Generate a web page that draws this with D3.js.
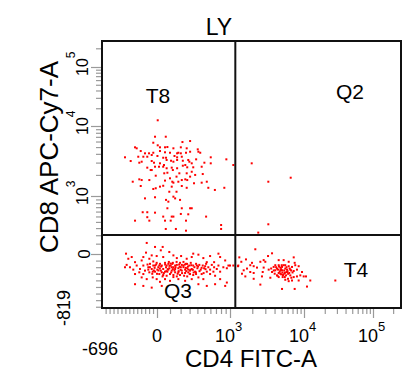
<!DOCTYPE html>
<html><head><meta charset="utf-8">
<script src="https://cdn.jsdelivr.net/npm/d3@7"></script>
<style>
html,body{margin:0;padding:0;background:#fff;}
svg{display:block;}
text{font-family:"Liberation Sans",Arial,sans-serif;fill:#000;}
</style></head>
<body><svg id="c" width="420" height="391"></svg>
<script>
// ---- data (fluorescence units: [CD4 FITC-A, CD8 APC-Cy7-A]) ----
const title = "LY";
const xLabel = "CD4 FITC-A";
const yLabel = "CD8 APC-Cy7-A";
const xMin = -696, xMax = 262143;
const yMin = -819, yMax = 262143;
const xGate = 1180, yGate = 203;
const quadrantNames = ["T8", "Q2", "Q3", "T4"];
const xMajorTicks = [0, 1e3, 1e4, 1e5];
const yMajorTicks = [0, 1e3, 1e4, 1e5];
const xMinorTicks = [-650,-600,-550,-500,-450,-400,-350,-300,-250,-200,-150,-100,-50,
  100,200,300,400,500,600,700,800,900,2000,3000,4000,5000,6000,7000,8000,9000,
  20000,30000,40000,50000,60000,70000,80000,90000,200000];
const yMinorTicks = [-800,-700,-600,-500,-400,-300,-200,-100,
  100,200,300,400,500,600,700,800,900,2000,3000,4000,5000,6000,7000,8000,9000,
  20000,30000,40000,50000,60000,70000,80000,90000,200000];

const t8Cells = [[5,12500],[-25,7030],[65,7030],[-47,5770],[219,5900],[306,6100],[-278,4960],[-257,4800],
[5,5300],[21,4960],[59,4960],[78,5010],[130,4800],[202,4960],[266,4800],[405,4640],[414,4290],[440,4150],
[-206,4390],[-152,4070],[-101,4070],[-47,4150],[21,4390],[59,4210],[100,4150],[165,4070],[177,4150],[202,4070],
[258,4150],[306,4290],[-405,3570],[-237,3640],[-173,3640],[-123,3640],[-67,3850],[3,3730],[45,3520],[67,3520],
[140,3730],[165,3570],[212,3640],[284,3270],[383,3340],[606,3570],[915,3340],[-333,3160],[-224,2990],[-194,3090],
[-67,3160],[-38,2990],[21,2930],[51,2770],[72,3270],[109,3190],[130,3090],[165,3270],[223,3190],[297,3090],
[326,2930],[502,2990],[606,2930],[1109,2770],[-123,2540],[-80,2350],[-25,2620],[14,2620],[45,2620],[72,2490],
[115,2540],[125,2350],[165,2490],[223,2710],[250,2770],[272,2570],[345,2570],[461,2620],[477,2060],[-67,2350],
[53,2110],[78,2150],[187,2110],[266,2110],[326,2220],[370,2000],[-16,1950],[100,1790],[159,1890],[212,1690],
[250,1730],[306,1890],[-307,1600],[-224,1730],[-194,1690],[-97,1690],[59,1660],[120,1600],[130,1550],[177,1600],
[272,1690],[355,1520],[461,1550],[540,1600],[-206,1390],[-47,1260],[-16,1290],[21,1360],[45,1400],[115,1360],
[212,1390],[266,1310],[565,1310],[680,1220],[870,1310],[94,1150],[159,1150],[130,980],[-152,930],[-25,962],
[67,887],[86,839],[146,930],[194,887],[78,674],[212,674],[306,674],[326,674],[-181,586],[-123,586],[-25,577],
[-123,486],[-97,422],[45,497],[115,497],[130,497],[202,550],[284,543],[529,497],[-278,422],[59,422],[106,422],
[258,422],[802,348],[65,287],[153,287],[258,262],[802,287]];

const q2Cells = [[1965,2930],[3295,1600],[6610,1825],[3295,360],[2410,235]];

const q3Cells = [[-130,108],[-25,66],[41,66],[27,33],[-139,12],[-67,-21],[94,18],[130,-21],[205,-31],[345,3],
[414,-10],[486,-62],[595,-31],[748,3],[889,-98],[782,-46],[-392,3],[-363,-72],[-320,-46],[-278,-124],[-173,-46],
[-194,-98],[-97,-72],[-4,-31],[45,-46],[162,-62],[266,-72],[326,-46],[540,-124],[666,-124],[962,-175],[1109,-175],
[1294,-175],[-405,-201],[-384,-165],
[-257,-175],[-215,-227],[-173,-175],[-152,-252],[-110,-201],[-89,-149],[-67,-227],[-47,-175],[-25,-268],[-4,-134],
[9,-201],[21,-149],[27,-252],[34,-175],[45,-227],[59,-134],[67,-201],[78,-268],[86,-149],[94,-216],[106,-175],
[115,-252],[125,-134],[130,-201],[146,-227],[162,-165],[177,-278],[194,-134],[202,-201],[212,-252],[229,-175],
[248,-237],[258,-149],[272,-216],[284,-278],[296,-175],[314,-134],[326,-227],[345,-175],[369,-268],[382,-149],
[400,-216],[427,-165],[447,-237],[477,-175],[498,-216],[529,-149],[565,-201],[595,-237],[624,-165],[666,-201],
[716,-227],[748,-175],[782,-268],[849,-201],[926,-216],[1000,-175],
[-47,-113],[16,-304],[45,-319],[72,-330],[100,-304],[130,-319],[162,-340],[194,-319],[237,-330],[272,-340],
[305,-304],[345,-319],[146,-278],[115,-201],[59,-268],[2,-237],[-97,-278],[-173,-304],[-224,-278],[-300,-237],
[-342,-201],[-278,-304],[-194,-355],[-130,-381],[-54,-355],[-4,-381],[21,-422],[59,-381],[100,-407],[177,-381],
[248,-407],[326,-381],[414,-355],[486,-381],[595,-304],[684,-330],[782,-381],[926,-433],[-278,-458],[-173,-484],
[-67,-510],[34,-484],[414,-458],[540,-484],[684,-458],[889,-484],[177,-216],[212,-165],[284,-237],[86,-237],
[34,-278],[-25,-175],[-110,-237],[382,-304],[461,-304],[540,-268],[653,-268],[146,-175],[248,-288],[392,-175],
[514,-185],[305,-252],[72,-175],[16,-175],[-54,-268],
[-30,-210],[-10,-160],[10,-250],[30,-190],[50,-290],[60,-160],[80,-230],[95,-180],[110,-280],[120,-150],
[140,-250],[150,-200],[170,-300],[185,-160],[200,-240],[215,-290],[230,-200],[245,-160],[260,-260],[280,-190],
[300,-300],[320,-170],[340,-240],[360,-200],[380,-280],[410,-190],[430,-260],[460,-210],[490,-290],[520,-230],
[40,-340],[90,-120],[160,-120],[230,-120],[-60,-300],[-90,-200],[-120,-160],[0,-300],[70,-260],[125,-230],
[190,-195],[255,-210],[310,-240],[350,-280],[20,-220],[105,-145],[180,-260],[270,-150],[-40,-250],[130,-350]];

const t4Cells = [[2198,43],[1336,-51],[1644,-82],[3698,6],[3266,-31],[1422,-118],[1982,-134],[2570,-118],
[2851,-93],[3000,-118],[4550,-93],[5309,-93],[6209,-118],[7261,-51],[7482,-134],[1879,-170],[2089,-185],
[2317,-206],[2851,-206],[1283,-185],[1698,-221],[1531,-247],[1452,-299],[1879,-273],[2089,-288],[2767,-273],
[3334,-237],[3890,-196],[4093,-170],[4315,-221],[4550,-170],[4786,-206],[5047,-247],[5309,-170],[5585,-221],
[5888,-273],[6209,-185],[6531,-237],[6887,-196],[7621,-170],[8035,-237],[8472,-185],[9397,-273],[3698,-273],
[4018,-299],[4315,-324],[4550,-288],[4932,-309],[5152,-350],[5484,-288],[5715,-324],[6081,-376],[6531,-324],
[6887,-402],[7261,-350],[8035,-340],[8913,-324],[9908,-340],[10690,-340],[1611,-340],[2089,-376],[2704,-340],
[3508,-360],[5585,-391],[6209,-412],[8472,-402],[12330,-402],[28440,-402],[2570,-464],[5047,-530],[7482,-530],
[11050,-494],[4786,-247],[5309,-309],[5888,-237],[4550,-350],[4093,-247],[6324,-288],[7261,-258],[5047,-196],
[5585,-170],[4456,-237],[6745,-360],
[4200,-200],[4700,-270],[5000,-170],[5400,-250],[5800,-200],[6100,-300],[4400,-330],[4900,-230],[5600,-280],
[6400,-220],[3900,-250],[5200,-320],[6000,-260],[4600,-190],[5500,-350],[7000,-280],[3600,-220],[6700,-250],
[5100,-280],[4800,-300]];

// ---- logicle-like transform ----
const W = 400;
function g(v) {
  if (v <= 0) return v / 1000;
  if (v < 1000) return Math.log10(1 + v / W) / Math.log10(1 + 1000 / W);
  return 1 + Math.log10(v / 1000);
}

const svg = d3.select("#c");
const x = d3.scaleLinear().domain([g(xMin), 0, 1, 2, 3, g(xMax)]).range([102, 157, 230, 304, 373, 401]);
const y = d3.scaleLinear().domain([g(yMin), 0, 1, 2, 3, g(yMax)]).range([308, 254, 196, 126, 67, 41]);
const X = v => x(g(v)), Y = v => y(g(v));

// axes ticks
const tickColor = "#9a9a9a";
function styleAxis(sel){ sel.select(".domain").remove(); sel.selectAll("line").attr("stroke", tickColor).attr("stroke-width",1.2); sel.selectAll("text").remove(); }
svg.append("g").attr("transform","translate(0,309)")
  .call(d3.axisBottom(x).tickValues(xMinorTicks.map(g)).tickSize(5).tickFormat("")).call(styleAxis);
svg.append("g").attr("transform","translate(0,309)")
  .call(d3.axisBottom(x).tickValues(xMajorTicks.map(g)).tickSize(9).tickFormat("")).call(styleAxis);
svg.append("g").attr("transform","translate(101,0)")
  .call(d3.axisLeft(y).tickValues(yMinorTicks.map(g)).tickSize(5).tickFormat("")).call(styleAxis);
svg.append("g").attr("transform","translate(101,0)")
  .call(d3.axisLeft(y).tickValues(yMajorTicks.map(g)).tickSize(10).tickFormat("")).call(styleAxis);

// dots
const cells = [].concat(t8Cells, q2Cells, q3Cells, t4Cells);
svg.append("g").selectAll("rect").data(cells).join("rect")
  .attr("x", d => X(d[0]) - 1).attr("y", d => Y(d[1]) - 1)
  .attr("width", 2).attr("height", 2).attr("fill", "#ff0000");

// frame and gates
const fx0 = X(xMin), fx1 = X(xMax), fy0 = Y(yMax), fy1 = Y(yMin);
svg.append("rect").attr("x", fx0).attr("y", fy0).attr("width", fx1 - fx0).attr("height", fy1 - fy0)
  .attr("fill","none").attr("stroke","#111").attr("stroke-width",2);
svg.append("line").attr("x1", X(xGate)).attr("x2", X(xGate)).attr("y1", fy0).attr("y2", fy1)
  .attr("stroke","#111").attr("stroke-width",2);
svg.append("line").attr("x1", fx0).attr("x2", fx1).attr("y1", Y(yGate)).attr("y2", Y(yGate))
  .attr("stroke","#111").attr("stroke-width",2);

// x tick labels
const exps = {1000:"3",10000:"4",100000:"5"};
xMajorTicks.forEach(v => {
  if (v === 0) {
    svg.append("text").attr("x", X(v)).attr("y", 342).attr("text-anchor","middle").attr("font-size",18).text("0");
  } else {
    const t = svg.append("text").attr("x", X(v) - 15).attr("y", 342).attr("font-size",18);
    t.append("tspan").text("10");
    t.append("tspan").attr("font-size",13).attr("dy",-11).text(exps[v]);
  }
});
svg.append("text").attr("x", X(xMin) - 2).attr("y", 355).attr("text-anchor","middle").attr("font-size",18).text(String(xMin));

// y tick labels
yMajorTicks.forEach(v => {
  if (v === 0) {
    svg.append("text").attr("transform",`translate(90,${Y(v)}) rotate(-90)`).attr("text-anchor","middle").attr("font-size",17).text("0");
  } else {
    const t = svg.append("text").attr("transform",`translate(88,${Y(v)+9}) rotate(-90)`).attr("font-size",16);
    t.append("tspan").text("10");
    t.append("tspan").attr("font-size",12).attr("dy",-13).text(exps[v]);
  }
});
svg.append("text").attr("transform",`translate(70,${Y(yMin)}) rotate(-90)`).attr("text-anchor","middle").attr("font-size",18).text(String(yMin));

// axis titles and plot title
svg.append("text").attr("x", 251).attr("y", 367).attr("text-anchor","middle").attr("font-size",24).text(xLabel);
svg.append("text").attr("transform","translate(58,157) rotate(-90)").attr("text-anchor","middle").attr("font-size",26).text(yLabel);
svg.append("text").attr("x", 219).attr("y", 35).attr("text-anchor","middle").attr("font-size",23).text(title);

// quadrant names
const qpos = [[158,103],[350,99],[178,298],[356,277]];
quadrantNames.forEach((n,i) => {
  svg.append("text").attr("x", qpos[i][0]).attr("y", qpos[i][1]).attr("text-anchor","middle").attr("font-size",21).text(n);
});
</script></body></html>
